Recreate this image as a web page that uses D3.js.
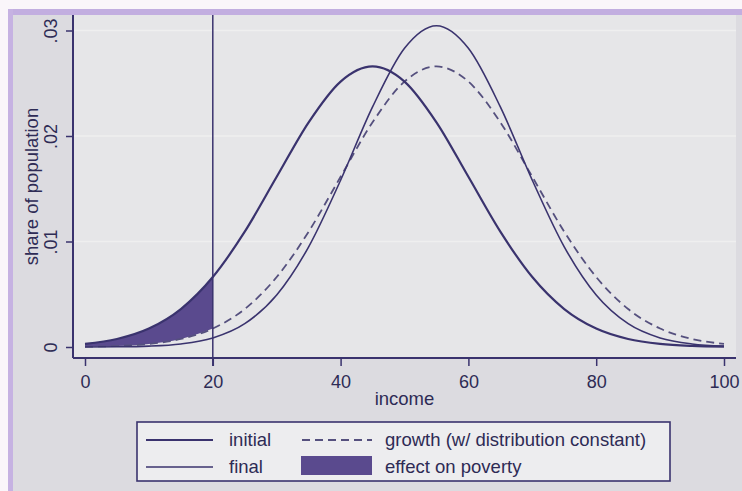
<!DOCTYPE html>
<html><head><meta charset="utf-8">
<script src="https://cdn.jsdelivr.net/npm/d3@7"></script>
<style>
html,body{margin:0;padding:0;background:#faf7fa;}
svg{display:block;font-family:"Liberation Sans",Arial,sans-serif;}
</style></head>
<body><svg id="c" width="742" height="491"></svg>
<script>
const income = [0,5,10,15,20,25,30,35,40,45,50,55,60,65,70,75,80,85,90,95,100];
const initial = [0.000295,0.000760,0.001748,0.003599,0.006632,0.010934,0.016131,0.021297,0.025159,0.026596,0.025159,0.021297,0.016131,0.010934,0.006632,0.003599,0.001748,0.000760,0.000295,0.000103,0.000032];
const growth = [0.000032,0.000103,0.000295,0.000760,0.001748,0.003599,0.006632,0.010934,0.016131,0.021297,0.025159,0.026596,0.025159,0.021297,0.016131,0.010934,0.006632,0.003599,0.001748,0.000760,0.000295];
const finalDist = [0.0000045,0.0000209,0.0000834,0.000288,0.000858,0.002212,0.004929,0.009496,0.015809,0.022757,0.028314,0.030454,0.028314,0.022757,0.015809,0.009496,0.004929,0.002212,0.000858,0.000288,0.0000834];
const povertyLine = 20;
const xTicks = [0,20,40,60,80,100];
const yTicks = [0,0.01,0.02,0.03];
const yTickLabels = ["0",".01",".02",".03"];
const legendItems = ["initial","growth (w/ distribution constant)","final","effect on poverty"];

const svg = d3.select("#c");
const lineCol = "#3a336e", fillCol = "#5a4a8e", textCol = "#2e2b55";
const FONT = "Liberation Sans, Arial, sans-serif";

// outer graph region
svg.append("rect").attr("x",0).attr("y",0).attr("width",742).attr("height",491).attr("fill","#faf6fa");
svg.append("rect").attr("x",8).attr("y",9).attr("width",734).attr("height",482).attr("fill","#dcdbe0");
svg.append("rect").attr("x",8).attr("y",9).attr("width",734).attr("height",6).attr("fill","#c2aee0");
svg.append("rect").attr("x",8).attr("y",9).attr("width",5).attr("height",482).attr("fill","#c6b2e2");

const x = d3.scaleLinear().domain([0,100]).range([85,724]);
const y = d3.scaleLinear().domain([0,0.03]).range([347,30.5]);
const pL = 73, pR = 736, pT = 15, pB = 358;

// plot region
svg.append("rect").attr("x",pL).attr("y",pT).attr("width",pR-pL).attr("height",pB-pT).attr("fill","#e6e6e8");
// gridlines
svg.append("g").selectAll("line").data(yTicks.slice(1)).join("line")
  .attr("x1",pL).attr("x2",pR).attr("y1",d=>y(d)).attr("y2",d=>y(d))
  .attr("stroke","#efefef").attr("stroke-width",1.5);

const pts = s => income.map((v,i)=>[v,s[i]]);
const line = d3.line().x(d=>x(d[0])).y(d=>y(d[1])).curve(d3.curveMonotoneX);

// shaded area between initial and growth below the poverty line
const shade = income.map((v,i)=>({x:v,a:initial[i],b:growth[i]})).filter(d=>d.x<=povertyLine);
svg.append("path").datum(shade)
  .attr("d", d3.area().x(d=>x(d.x)).y0(d=>y(d.b)).y1(d=>y(d.a)).curve(d3.curveMonotoneX))
  .attr("fill",fillCol);

svg.append("path").datum(pts(growth)).attr("d",line).attr("fill","none")
  .attr("stroke","#55507e").attr("stroke-width",1.8).attr("stroke-dasharray","8,5");
svg.append("path").datum(pts(finalDist)).attr("d",line).attr("fill","none")
  .attr("stroke",lineCol).attr("stroke-width",1.6);
svg.append("path").datum(pts(initial)).attr("d",line).attr("fill","none")
  .attr("stroke",lineCol).attr("stroke-width",2.2);

// poverty line
svg.append("line").attr("x1",x(povertyLine)).attr("x2",x(povertyLine)).attr("y1",pT).attr("y2",pB+8)
  .attr("stroke",lineCol).attr("stroke-width",1.5);

// axes
const xAxis = svg.append("g").attr("transform",`translate(0,${pB})`)
  .call(d3.axisBottom(x).tickValues(xTicks).tickSize(8).tickPadding(9));
xAxis.select(".domain").attr("d",`M${pL},0H${pR}`).attr("stroke",lineCol).attr("stroke-width",2);
xAxis.selectAll(".tick line").attr("stroke",lineCol).attr("stroke-width",1.5);
xAxis.selectAll(".tick text").attr("fill",textCol).attr("font-size",18).attr("font-family",FONT);

const yAxis = svg.append("g").attr("transform",`translate(${pL},0)`)
  .call(d3.axisLeft(y).tickValues(yTicks).tickFormat((d,i)=>yTickLabels[i]).tickSize(7));
yAxis.select(".domain").attr("d",`M0,${pT}V${pB}`).attr("stroke",lineCol).attr("stroke-width",2);
yAxis.selectAll(".tick line").attr("stroke",lineCol).attr("stroke-width",1.5);
yAxis.selectAll(".tick text").attr("fill",textCol).attr("font-size",18).attr("font-family",FONT)
  .attr("text-anchor","middle").attr("x",0).attr("y",0).attr("dy","0.35em")
  .attr("transform","translate(-22,0) rotate(-90)");

// axis titles
svg.append("text").attr("x",x(50)).attr("y",405).attr("text-anchor","middle")
  .attr("fill",textCol).attr("font-size",18.5).text("income");
svg.append("text").attr("transform",`translate(38,${(pT+pB)/2}) rotate(-90)`).attr("text-anchor","middle")
  .attr("fill",textCol).attr("font-size",18.5).text("share of population");

// legend
const lg = svg.append("g");
lg.append("rect").attr("x",137).attr("y",422).attr("width",533).attr("height",59)
  .attr("fill","#ededef").attr("stroke",lineCol).attr("stroke-width",1.6);
const r1 = 440, r2 = 467;
lg.append("line").attr("x1",146).attr("x2",213).attr("y1",r1).attr("y2",r1).attr("stroke",lineCol).attr("stroke-width",2.2);
lg.append("line").attr("x1",146).attr("x2",213).attr("y1",r2).attr("y2",r2).attr("stroke",lineCol).attr("stroke-width",1.6);
lg.append("line").attr("x1",302).attr("x2",372).attr("y1",r1).attr("y2",r1).attr("stroke","#55507e").attr("stroke-width",1.8).attr("stroke-dasharray","8,5");
lg.append("rect").attr("x",301).attr("y",456).attr("width",71).attr("height",19).attr("fill",fillCol);
const lx = [229,385,229,385], ly=[r1,r1,r2,r2];
lg.selectAll("text").data(legendItems).join("text")
  .attr("x",(d,i)=>lx[i]).attr("y",(d,i)=>ly[i]).attr("dy","0.35em")
  .attr("fill",textCol).attr("font-size",18.5).text(d=>d);
</script></body></html>
